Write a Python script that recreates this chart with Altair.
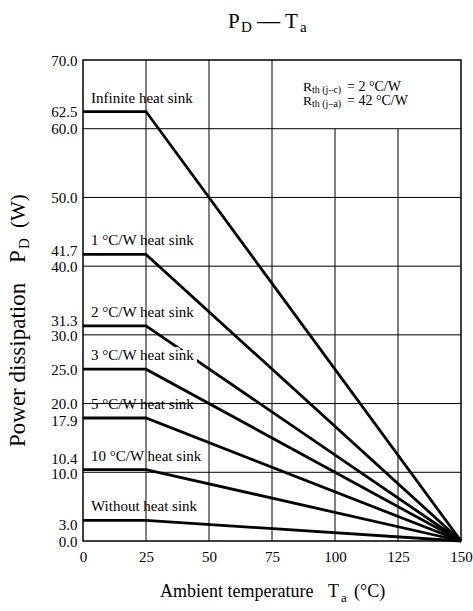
import altair as alt
import pandas as pd

# ---- data ----
series = ["Infinite heat sink", "1 °C/W heat sink", "2 °C/W heat sink", "3 °C/W heat sink",
          "5 °C/W heat sink", "10 °C/W heat sink", "Without heat sink"]
pd_max = [62.5, 41.7, 31.3, 25.0, 17.9, 10.4, 3.0]
knee_temp = [0, 25, 150]          # start of curve, derating knee, zero-power point
y_ticks = [0.0, 3.0, 10.0, 10.4, 17.9, 20.0, 25.0, 30.0, 31.3, 40.0, 41.7, 50.0, 60.0, 62.5, 70.0]
x_ticks = [0, 25, 50, 75, 100, 125, 150]
grid_x = [25, 50, 75, 100, 125]
grid_x_top = [70, 70, 70, 60, 60]   # vertical grid lines stop under the note box
grid_y = [10, 20, 30, 40, 50, 60]

FONT = "Liberation Serif"

rows = []
for s, v in zip(series, pd_max):
    rows.append({"series": s, "T": knee_temp[0], "P": v, "o": 0})
    rows.append({"series": s, "T": knee_temp[1], "P": v, "o": 1})
    rows.append({"series": s, "T": knee_temp[2], "P": 0.0, "o": 2})
lines_df = pd.DataFrame(rows)
labels_df = pd.DataFrame({"series": series, "T": [knee_temp[0]] * len(series), "P": pd_max})
gx_df = pd.DataFrame({"T": grid_x, "P": [0.0] * len(grid_x), "P2": grid_x_top})
gy_df = pd.DataFrame({"P": grid_y})

xs = alt.Scale(domain=[0, 150], nice=False)
ys = alt.Scale(domain=[0, 70], nice=False)

# tick labels that sit close together are pushed apart a little
y_nudge = {"condition": [{"test": "datum.value == 10.4", "value": -11},
                         {"test": "datum.value == 10", "value": 1.5},
                         {"test": "datum.value == 41.7", "value": -4},
                         {"test": "datum.value == 31.3", "value": -5},
                         {"test": "datum.value == 30", "value": 1},
                         {"test": "datum.value == 17.9", "value": 2},
                         {"test": "datum.value == 3", "value": 4}],
           "value": 0}

x_axis = alt.Axis(values=x_ticks, title=None, grid=False, ticks=False, domain=False,
                  labelFont=FONT, labelFontSize=15, labelColor="black", labelPadding=8,
                  labelFlush=False, labelOverlap=False)
y_axis = alt.Axis(values=y_ticks, format=".1f", title=None, grid=False, ticks=False, domain=False,
                  labelFont=FONT, labelFontSize=15, labelColor="black", labelPadding=6,
                  labelFlush=False, labelOverlap=False, labelOffset=y_nudge)

X = alt.X("T:Q", scale=xs, axis=x_axis)
Y = alt.Y("P:Q", scale=ys, axis=y_axis)

lines = alt.Chart(lines_df).mark_line(color="black", strokeWidth=2.8).encode(
    x=X, y=Y, detail="series:N", order="o:Q")

halo = alt.Chart(labels_df).mark_text(align="left", baseline="alphabetic", dx=8, dy=-9, font=FONT,
                                      fontSize=15, color="white", stroke="white",
                                      strokeWidth=6).encode(x=X, y=Y, text="series:N")

vgrid = alt.Chart(gx_df).mark_rule(color="black", strokeWidth=1).encode(
    x=X, y=Y, y2="P2:Q")
hgrid = alt.Chart(gy_df).mark_rule(color="black", strokeWidth=1).encode(y=Y)

labels = alt.Chart(labels_df).mark_text(align="left", baseline="alphabetic", dx=8, dy=-9, font=FONT,
                                        fontSize=15, color="black").encode(
    x=X, y=Y, text="series:N")

OX, OY = 83, 60  # plot origin inside the canvas


def txt(s, x, y, size, angle=0):
    return alt.Chart(pd.DataFrame({"t": [s]})).mark_text(
        align="left", baseline="alphabetic", font=FONT, fontSize=size, color="black",
        angle=angle).encode(x=alt.value(x - OX), y=alt.value(y - OY), text="t:N")


annots = [
    # title P_D — T_a
    txt("P", 228, 28, 21), txt("D", 241, 32, 15), txt("—", 257, 28, 23),
    txt("T", 285, 28, 21), txt("a", 300, 32, 15),
    # thermal resistance note
    txt("R", 303, 91, 13.5), txt("th (j–c)", 312, 92.5, 10), txt("= 2 °C/W", 347, 91, 14),
    txt("R", 303, 105, 13.5), txt("th (j–a)", 312, 106.5, 10), txt("= 42 °C/W", 347, 105, 14),
    # x title
    txt("Ambient temperature", 160, 597, 18), txt("T", 328, 597, 18), txt("a", 341, 602, 13),
    txt("(°C)", 354, 597, 18),
    # y title (rotated)
    txt("Power dissipation", 25, 447, 23, 270), txt("P", 25, 263, 23, 270),
    txt("D", 29, 249, 15, 270), txt("(W)", 25, 228, 21, 270),
]

chart = alt.layer(lines, halo, vgrid, hgrid, labels, *annots).properties(
    width=378, height=481,
    autosize=alt.AutoSizeParams(type="none"),
    padding={"left": OX, "top": OY, "right": 12, "bottom": 70},
    background="white",
).configure_view(stroke="black", strokeWidth=1.5)

chart.save("out.html", embed_options={"renderer": "svg", "actions": False})
